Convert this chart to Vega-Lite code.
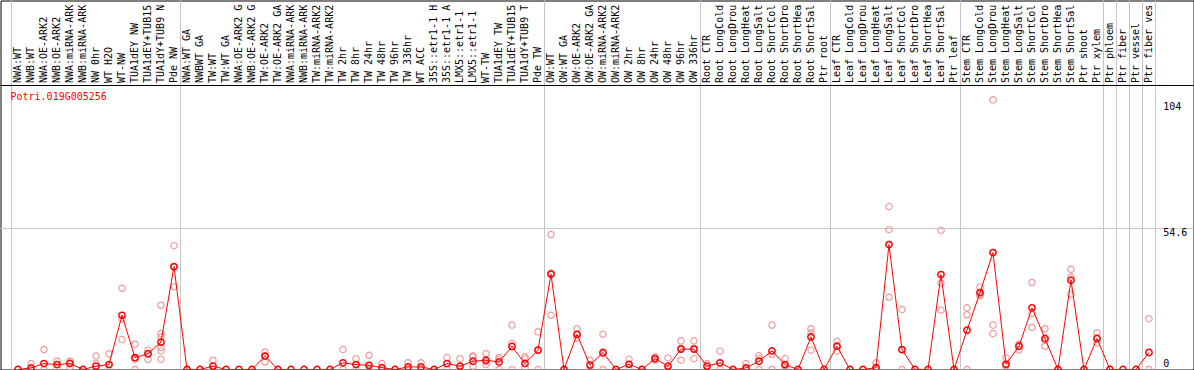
{
  "$schema": "https://vega.github.io/schema/vega-lite/v6.json",
  "width": 1193,
  "height": 369,
  "autosize": {"type": "none"},
  "padding": {"left": 0.5, "top": 0.5, "right": 0.5, "bottom": 0.5},
  "background": "white",
  "config": {"view": {"stroke": "black", "strokeWidth": 1}, "font": "DejaVu Sans Mono"},
  "datasets": {
    "means": [
      {"name": "NWA:WT", "v": 0}, {"name": "NWB:WT", "v": 0.6}, {"name": "NWA:OE-ARK2", "v": 2.3}, {"name": "NWB:OE-ARK2", "v": 1.9},
      {"name": "NWA:miRNA-ARK2", "v": 2.3}, {"name": "NWB:miRNA-ARK2", "v": 0}, {"name": "NW 0hr", "v": 1.3}, {"name": "WT H2O", "v": 1.9},
      {"name": "WT-NW", "v": 21.0}, {"name": "TUA1dEY NW", "v": 4.6}, {"name": "TUA1dEY+TUB15 NW", "v": 6.1}, {"name": "TUA1dY+TUB9 NW", "v": 10.6},
      {"name": "Pde NW", "v": 39.9}, {"name": "NWA:WT GA", "v": 0}, {"name": "NWBWT GA", "v": 0}, {"name": "TW:WT", "v": 1.3},
      {"name": "TW:WT GA", "v": 0}, {"name": "NWA:OE-ARK2 GA", "v": 0}, {"name": "NWB:OE-ARK2 GA", "v": 0}, {"name": "TW:OE-ARK2", "v": 5.2},
      {"name": "TW:OE-ARK2 GA", "v": 0}, {"name": "NWA:miRNA-ARK2 GA", "v": 0}, {"name": "NWB:miRNA-ARK2 GA", "v": 0}, {"name": "TW:miRNA-ARK2", "v": 0},
      {"name": "TW:miRNA-ARK2 GA", "v": 0}, {"name": "TW 2hr", "v": 2.6}, {"name": "TW 8hr", "v": 1.9}, {"name": "TW 24hr", "v": 1.6},
      {"name": "TW 48hr", "v": 0.7}, {"name": "TW 96hr", "v": 0}, {"name": "TW 336hr", "v": 1.0}, {"name": "WT ACC", "v": 1.0},
      {"name": "35S::etr1-1 H2O", "v": 0}, {"name": "35S::etr1-1 ACC", "v": 2.3}, {"name": "LMX5::etr1-1 H2O", "v": 1.3}, {"name": "LMX5::etr1-1 ACC", "v": 3.2},
      {"name": "WT-TW", "v": 3.6}, {"name": "TUA1dEY TW", "v": 2.9}, {"name": "TUA1dEY+TUB15 TW", "v": 8.9}, {"name": "TUA1dY+TUB9 TW", "v": 2.3},
      {"name": "Pde TW", "v": 7.5}, {"name": "OW:WT", "v": 36.9}, {"name": "OW:WT GA", "v": 0}, {"name": "OW:OE-ARK2", "v": 13.6},
      {"name": "OW:OE-ARK2 GA", "v": 1.7}, {"name": "OW:miRNA-ARK2", "v": 6.6}, {"name": "OW:miRNA-ARK2 GA", "v": 0}, {"name": "OW 2hr", "v": 2.0},
      {"name": "OW 8hr", "v": 0}, {"name": "OW 24hr", "v": 4.2}, {"name": "OW 48hr", "v": 1.3}, {"name": "OW 96hr", "v": 7.9},
      {"name": "OW 336hr", "v": 7.9}, {"name": "Root CTR", "v": 1.3}, {"name": "Root LongCold", "v": 2.6}, {"name": "Root LongDrought", "v": 0},
      {"name": "Root LongHeat", "v": 0.6}, {"name": "Root LongSalt", "v": 3.2}, {"name": "Root ShortCold", "v": 7.2}, {"name": "Root ShortDrought", "v": 1.9},
      {"name": "Root ShortHeat", "v": 0}, {"name": "Root ShortSalt", "v": 12.6}, {"name": "Ptr root", "v": 0}, {"name": "Leaf CTR", "v": 9.0},
      {"name": "Leaf LongCold", "v": 0}, {"name": "Leaf LongDrought", "v": 0}, {"name": "Leaf LongHeat", "v": 0.7}, {"name": "Leaf LongSalt", "v": 48.4},
      {"name": "Leaf ShortCold", "v": 7.7}, {"name": "Leaf ShortDrought", "v": 0}, {"name": "Leaf ShortHeat", "v": 0}, {"name": "Leaf ShortSalt", "v": 36.8},
      {"name": "Ptr leaf", "v": 0}, {"name": "Stem CTR", "v": 15.2}, {"name": "Stem LongCold", "v": 29.8}, {"name": "Stem LongDrought", "v": 45.3},
      {"name": "Stem LongHeat", "v": 2.0}, {"name": "Stem LongSalt", "v": 9.0}, {"name": "Stem ShortCold", "v": 23.9}, {"name": "Stem ShortDrought", "v": 12.0},
      {"name": "Stem ShortHeat", "v": 0}, {"name": "Stem ShortSalt", "v": 34.6}, {"name": "Ptr shoot", "v": 0}, {"name": "Ptr xylem", "v": 12.0},
      {"name": "Ptr phloem", "v": 0}, {"name": "Ptr fiber", "v": 0}, {"name": "Ptr vessel", "v": 0}, {"name": "Ptr fiber vessel", "v": 6.6}
    ],
    "reps": [
      {"name": "NWB:WT", "v": 2.3}, {"name": "NWB:WT", "v": 0},
      {"name": "NWA:OE-ARK2", "v": 7.7}, {"name": "NWA:OE-ARK2", "v": 0},
      {"name": "NWB:OE-ARK2", "v": 3.3}, {"name": "NWB:OE-ARK2", "v": 0.5},
      {"name": "NWA:miRNA-ARK2", "v": 3.3}, {"name": "NWA:miRNA-ARK2", "v": 2.6}, {"name": "NWA:miRNA-ARK2", "v": 1.0},
      {"name": "NW 0hr", "v": 5.2}, {"name": "NW 0hr", "v": 2.3},
      {"name": "WT H2O", "v": 6.1}, {"name": "WT H2O", "v": 0},
      {"name": "WT-NW", "v": 31.5}, {"name": "WT-NW", "v": 19.6}, {"name": "WT-NW", "v": 11.6},
      {"name": "TUA1dEY NW", "v": 9.8}, {"name": "TUA1dEY NW", "v": 4.0}, {"name": "TUA1dEY NW", "v": 0},
      {"name": "TUA1dEY+TUB15 NW", "v": 7.5}, {"name": "TUA1dEY+TUB15 NW", "v": 6.1}, {"name": "TUA1dEY+TUB15 NW", "v": 3.9},
      {"name": "TUA1dY+TUB9 NW", "v": 24.9}, {"name": "TUA1dY+TUB9 NW", "v": 13.9}, {"name": "TUA1dY+TUB9 NW", "v": 12.6}, {"name": "TUA1dY+TUB9 NW", "v": 8.5}, {"name": "TUA1dY+TUB9 NW", "v": 7.2}, {"name": "TUA1dY+TUB9 NW", "v": 4.0},
      {"name": "Pde NW", "v": 48.0}, {"name": "Pde NW", "v": 39.6}, {"name": "Pde NW", "v": 32.1},
      {"name": "TW:WT", "v": 3.6}, {"name": "TW:WT", "v": 0},
      {"name": "TW:OE-ARK2", "v": 6.8}, {"name": "TW:OE-ARK2", "v": 5.2}, {"name": "TW:OE-ARK2", "v": 2.9},
      {"name": "TW 2hr", "v": 7.7}, {"name": "TW 2hr", "v": 0},
      {"name": "TW 8hr", "v": 4.2}, {"name": "TW 8hr", "v": 0},
      {"name": "TW 24hr", "v": 5.5}, {"name": "TW 24hr", "v": 0},
      {"name": "TW 48hr", "v": 2.3}, {"name": "TW 48hr", "v": 0},
      {"name": "TW 336hr", "v": 2.6}, {"name": "TW 336hr", "v": 0},
      {"name": "WT ACC", "v": 2.6}, {"name": "WT ACC", "v": 0},
      {"name": "35S::etr1-1 ACC", "v": 4.6}, {"name": "35S::etr1-1 ACC", "v": 0},
      {"name": "LMX5::etr1-1 H2O", "v": 4.2}, {"name": "LMX5::etr1-1 H2O", "v": 0},
      {"name": "LMX5::etr1-1 ACC", "v": 5.3}, {"name": "LMX5::etr1-1 ACC", "v": 4.8}, {"name": "LMX5::etr1-1 ACC", "v": 1.3},
      {"name": "WT-TW", "v": 6.1}, {"name": "WT-TW", "v": 3.0}, {"name": "WT-TW", "v": 1.9},
      {"name": "TUA1dEY TW", "v": 4.6}, {"name": "TUA1dEY TW", "v": 4.0}, {"name": "TUA1dEY TW", "v": 0},
      {"name": "TUA1dEY+TUB15 TW", "v": 17.2}, {"name": "TUA1dEY+TUB15 TW", "v": 10.1}, {"name": "TUA1dEY+TUB15 TW", "v": 0},
      {"name": "TUA1dY+TUB9 TW", "v": 4.9}, {"name": "TUA1dY+TUB9 TW", "v": 4.2}, {"name": "TUA1dY+TUB9 TW", "v": 0.8},
      {"name": "Pde TW", "v": 14.6}, {"name": "Pde TW", "v": 7.5}, {"name": "Pde TW", "v": 0},
      {"name": "OW:WT", "v": 52.3}, {"name": "OW:WT", "v": 37.4}, {"name": "OW:WT", "v": 21.0},
      {"name": "OW:OE-ARK2", "v": 15.8}, {"name": "OW:OE-ARK2", "v": 13.6}, {"name": "OW:OE-ARK2", "v": 12.1},
      {"name": "OW:OE-ARK2 GA", "v": 3.6}, {"name": "OW:OE-ARK2 GA", "v": 0},
      {"name": "OW:miRNA-ARK2", "v": 13.7}, {"name": "OW:miRNA-ARK2", "v": 6.1}, {"name": "OW:miRNA-ARK2", "v": 0},
      {"name": "OW 2hr", "v": 4.0}, {"name": "OW 2hr", "v": 0},
      {"name": "OW 24hr", "v": 4.9}, {"name": "OW 24hr", "v": 4.2}, {"name": "OW 24hr", "v": 3.6},
      {"name": "OW 48hr", "v": 4.5}, {"name": "OW 48hr", "v": 0},
      {"name": "OW 96hr", "v": 11.1}, {"name": "OW 96hr", "v": 8.2}, {"name": "OW 96hr", "v": 3.6},
      {"name": "OW 336hr", "v": 11.1}, {"name": "OW 336hr", "v": 8.2}, {"name": "OW 336hr", "v": 4.2},
      {"name": "Root CTR", "v": 2.3}, {"name": "Root CTR", "v": 0},
      {"name": "Root LongCold", "v": 7.1}, {"name": "Root LongCold", "v": 0},
      {"name": "Root LongHeat", "v": 2.3}, {"name": "Root LongHeat", "v": 0},
      {"name": "Root LongSalt", "v": 5.3}, {"name": "Root LongSalt", "v": 4.3}, {"name": "Root LongSalt", "v": 0},
      {"name": "Root ShortCold", "v": 17.2}, {"name": "Root ShortCold", "v": 5.8}, {"name": "Root ShortCold", "v": 0},
      {"name": "Root ShortDrought", "v": 4.2}, {"name": "Root ShortDrought", "v": 1.5}, {"name": "Root ShortDrought", "v": 0},
      {"name": "Root ShortSalt", "v": 15.8}, {"name": "Root ShortSalt", "v": 14.2}, {"name": "Root ShortSalt", "v": 7.5},
      {"name": "Leaf CTR", "v": 10.9}, {"name": "Leaf CTR", "v": 9.0}, {"name": "Leaf CTR", "v": 7.2},
      {"name": "Leaf LongHeat", "v": 2.6}, {"name": "Leaf LongHeat", "v": 0},
      {"name": "Leaf LongSalt", "v": 63.1}, {"name": "Leaf LongSalt", "v": 54.2}, {"name": "Leaf LongSalt", "v": 28.0},
      {"name": "Leaf ShortCold", "v": 23.2}, {"name": "Leaf ShortCold", "v": 0},
      {"name": "Leaf ShortSalt", "v": 53.9}, {"name": "Leaf ShortSalt", "v": 33.5}, {"name": "Leaf ShortSalt", "v": 23.0},
      {"name": "Stem CTR", "v": 23.9}, {"name": "Stem CTR", "v": 21.2}, {"name": "Stem CTR", "v": 0},
      {"name": "Stem LongCold", "v": 32.0}, {"name": "Stem LongCold", "v": 29.0}, {"name": "Stem LongCold", "v": 28.5},
      {"name": "Stem LongDrought", "v": 104.5}, {"name": "Stem LongDrought", "v": 17.2}, {"name": "Stem LongDrought", "v": 13.9},
      {"name": "Stem LongHeat", "v": 4.5}, {"name": "Stem LongHeat", "v": 1.5}, {"name": "Stem LongHeat", "v": 0},
      {"name": "Stem LongSalt", "v": 9.8}, {"name": "Stem LongSalt", "v": 9.1}, {"name": "Stem LongSalt", "v": 7.6},
      {"name": "Stem ShortCold", "v": 33.7}, {"name": "Stem ShortCold", "v": 21.7}, {"name": "Stem ShortCold", "v": 16.3},
      {"name": "Stem ShortDrought", "v": 15.8}, {"name": "Stem ShortDrought", "v": 11.2}, {"name": "Stem ShortDrought", "v": 9.0},
      {"name": "Stem ShortSalt", "v": 38.8}, {"name": "Stem ShortSalt", "v": 35.8}, {"name": "Stem ShortSalt", "v": 29.2},
      {"name": "Ptr xylem", "v": 14.2}, {"name": "Ptr xylem", "v": 12.0}, {"name": "Ptr xylem", "v": 10.3},
      {"name": "Ptr fiber vessel", "v": 19.7}, {"name": "Ptr fiber vessel", "v": 0}
    ],
    "groupEnds": [
      {"name": "Pde NW"}, {"name": "Pde TW"}, {"name": "OW 336hr"}, {"name": "Ptr root"}, {"name": "Ptr leaf"},
      {"name": "Ptr xylem"}, {"name": "Ptr phloem"}, {"name": "Ptr fiber"}, {"name": "Ptr vessel"}, {"name": "Ptr fiber vessel"}
    ],
    "groupStart": [{"name": "NWA:WT"}],
    "gene": [{"name": "NWA:WT", "gene": "Potri.019G005256"}],
    "one": [{"k": 1}],
    "ylab104": [{"name": " ", "v": 104, "lab": "104"}],
    "ylab546": [{"name": " ", "v": 54.6, "lab": "54.6"}],
    "ylab0": [{"name": " ", "v": 0, "lab": "0"}]
  },
  "layer": [
    {
      "data": {"name": "groupEnds"},
      "mark": {"type": "rule", "color": "#c4c4c4", "strokeWidth": 1},
      "encoding": {"x": {"field": "name", "type": "nominal", "bandPosition": 1, "axis": null}}
    },
    {
      "data": {"name": "groupStart"},
      "mark": {"type": "rule", "color": "#c4c4c4", "strokeWidth": 1},
      "encoding": {"x": {"field": "name", "type": "nominal", "bandPosition": 0, "axis": null}}
    },
    {
      "data": {"name": "one"},
      "mark": {"type": "rule", "color": "#c4c4c4", "strokeWidth": 1},
      "encoding": {"y": {"datum": 54.6, "type": "quantitative", "axis": null}}
    },
    {
      "data": {"name": "one"},
      "mark": {"type": "rule", "color": "black", "strokeWidth": 1},
      "encoding": {"y": {"datum": 110.06, "type": "quantitative", "axis": null}}
    },
    {
      "data": {"name": "means"},
      "mark": {"type": "text", "angle": 270, "align": "left", "baseline": "middle", "color": "black", "font": "DejaVu Sans Mono", "fontSize": 10, "limit": 83, "ellipsis": "\u200b"},
      "encoding": {
        "x": {"field": "name", "type": "nominal", "sort": null, "axis": null},
        "y": {"datum": 111, "type": "quantitative", "axis": null},
        "text": {"field": "name"}
      }
    },
    {
      "data": {"name": "reps"},
      "mark": {"type": "point", "shape": "circle", "filled": false, "color": "#ee9a9a", "strokeWidth": 1.2, "size": 40, "opacity": 1},
      "encoding": {
        "x": {"field": "name", "type": "nominal", "sort": null, "axis": null},
        "y": {"field": "v", "type": "quantitative", "axis": null}
      }
    },
    {
      "data": {"name": "means"},
      "mark": {"type": "line", "color": "#ff0000", "strokeWidth": 1},
      "encoding": {
        "x": {"field": "name", "type": "nominal", "sort": null, "axis": null},
        "y": {"field": "v", "type": "quantitative", "axis": null}
      }
    },
    {
      "data": {"name": "gene"},
      "mark": {"type": "text", "align": "left", "baseline": "middle", "color": "#ff0000", "font": "DejaVu Sans Mono", "fontSize": 10, "dx": -1},
      "encoding": {
        "x": {"field": "name", "type": "nominal", "bandPosition": 0, "axis": null},
        "y": {"datum": 105.5, "type": "quantitative", "axis": null},
        "text": {"field": "gene"}
      }
    },
    {
      "data": {"name": "ylab104"},
      "mark": {"type": "text", "align": "left", "baseline": "top", "color": "black", "font": "DejaVu Sans Mono", "fontSize": 10, "dy": 1},
      "encoding": {
        "x": {"field": "name", "type": "nominal", "bandPosition": 0.6, "axis": null},
        "y": {"field": "v", "type": "quantitative", "axis": null},
        "text": {"field": "lab"}
      }
    },
    {
      "data": {"name": "ylab546"},
      "mark": {"type": "text", "align": "left", "baseline": "top", "color": "black", "font": "DejaVu Sans Mono", "fontSize": 10, "dy": -1},
      "encoding": {
        "x": {"field": "name", "type": "nominal", "bandPosition": 0.6, "axis": null},
        "y": {"field": "v", "type": "quantitative", "axis": null},
        "text": {"field": "lab"}
      }
    },
    {
      "data": {"name": "ylab0"},
      "mark": {"type": "text", "align": "left", "baseline": "bottom", "color": "black", "font": "DejaVu Sans Mono", "fontSize": 10, "dy": -1},
      "encoding": {
        "x": {"field": "name", "type": "nominal", "bandPosition": 0.6, "axis": null},
        "y": {"field": "v", "type": "quantitative", "axis": null},
        "text": {"field": "lab"}
      }
    },
    {
      "data": {"name": "means"},
      "mark": {"type": "point", "shape": "circle", "filled": false, "color": "#ff0000", "strokeWidth": 1.5, "size": 40, "opacity": 1},
      "encoding": {
        "x": {
          "field": "name",
          "type": "nominal",
          "sort": null,
          "scale": {
            "type": "band",
            "paddingInner": 0,
            "paddingOuter": 0.885,
            "align": 0.478,
            "domain": ["NWA:WT", "NWB:WT", "NWA:OE-ARK2", "NWB:OE-ARK2", "NWA:miRNA-ARK2", "NWB:miRNA-ARK2", "NW 0hr", "WT H2O", "WT-NW", "TUA1dEY NW", "TUA1dEY+TUB15 NW", "TUA1dY+TUB9 NW", "Pde NW", "NWA:WT GA", "NWBWT GA", "TW:WT", "TW:WT GA", "NWA:OE-ARK2 GA", "NWB:OE-ARK2 GA", "TW:OE-ARK2", "TW:OE-ARK2 GA", "NWA:miRNA-ARK2 GA", "NWB:miRNA-ARK2 GA", "TW:miRNA-ARK2", "TW:miRNA-ARK2 GA", "TW 2hr", "TW 8hr", "TW 24hr", "TW 48hr", "TW 96hr", "TW 336hr", "WT ACC", "35S::etr1-1 H2O", "35S::etr1-1 ACC", "LMX5::etr1-1 H2O", "LMX5::etr1-1 ACC", "WT-TW", "TUA1dEY TW", "TUA1dEY+TUB15 TW", "TUA1dY+TUB9 TW", "Pde TW", "OW:WT", "OW:WT GA", "OW:OE-ARK2", "OW:OE-ARK2 GA", "OW:miRNA-ARK2", "OW:miRNA-ARK2 GA", "OW 2hr", "OW 8hr", "OW 24hr", "OW 48hr", "OW 96hr", "OW 336hr", "Root CTR", "Root LongCold", "Root LongDrought", "Root LongHeat", "Root LongSalt", "Root ShortCold", "Root ShortDrought", "Root ShortHeat", "Root ShortSalt", "Ptr root", "Leaf CTR", "Leaf LongCold", "Leaf LongDrought", "Leaf LongHeat", "Leaf LongSalt", "Leaf ShortCold", "Leaf ShortDrought", "Leaf ShortHeat", "Leaf ShortSalt", "Ptr leaf", "Stem CTR", "Stem LongCold", "Stem LongDrought", "Stem LongHeat", "Stem LongSalt", "Stem ShortCold", "Stem ShortDrought", "Stem ShortHeat", "Stem ShortSalt", "Ptr shoot", "Ptr xylem", "Ptr phloem", "Ptr fiber", "Ptr vessel", "Ptr fiber vessel", " ", "  "]
          },
          "axis": null
        },
        "y": {
          "field": "v",
          "type": "quantitative",
          "scale": {"domain": [0, 143], "nice": false, "zero": true},
          "axis": null
        }
      }
    }
  ]
}
